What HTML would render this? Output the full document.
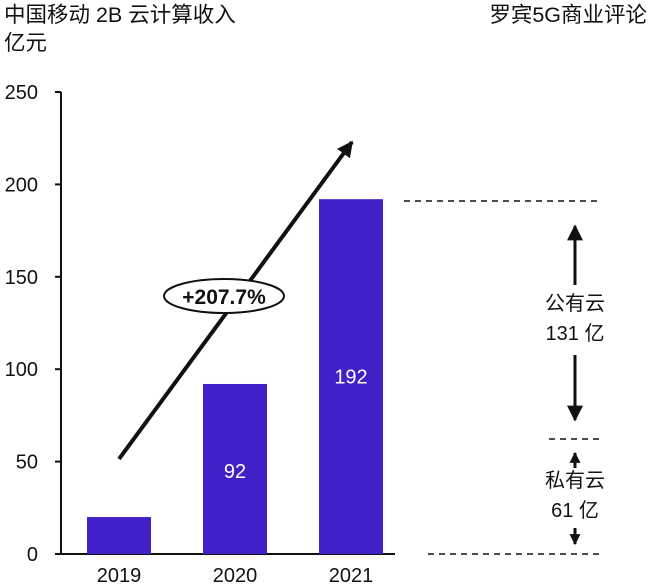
<!DOCTYPE html>
<html><head><meta charset="utf-8"><style>
body{margin:0;background:#fff;}
svg{display:block;font-family:"Liberation Sans","Noto Sans CJK SC",sans-serif;}
</style></head><body>
<svg id="chart" width="651" height="587" viewBox="0 0 651 587">
<defs>
<marker id="ah" viewBox="0 0 10 10" markerWidth="11" markerHeight="11" refX="9" refY="5" orient="auto" markerUnits="userSpaceOnUse"><path d="M0,0 L10,5 L0,10 z" fill="#111"/></marker>
<marker id="ah2" viewBox="0 0 10 10" markerWidth="16" markerHeight="16" refX="9" refY="5" orient="auto" markerUnits="userSpaceOnUse"><path d="M0,0 L10,5 L0,10 z" fill="#111"/></marker>
</defs>
<text x="4" y="22" font-size="21.5" fill="#111">中国移动 2B 云计算收入</text>
<text x="4" y="50" font-size="21.5" fill="#111">亿元</text>
<text x="647" y="22" font-size="21.5" fill="#111" text-anchor="end">罗宾5G商业评论</text>
<g id="axes"></g>
<g id="bars"></g>
<line x1="119" y1="459" x2="352" y2="142" stroke="#111" stroke-width="4" marker-end="url(#ah2)"/>
<ellipse cx="224" cy="296" rx="60" ry="17" fill="#fff" stroke="#111" stroke-width="2"/>
<text x="224" y="304" font-size="21" font-weight="bold" text-anchor="middle" fill="#111">+207.7%</text>
<g stroke="#111" stroke-width="1.6" stroke-dasharray="6,5">
<line x1="404" y1="201" x2="600" y2="201"/>
<line x1="549" y1="439" x2="600" y2="439"/>
<line x1="428" y1="554" x2="600" y2="554"/>
</g>
<g stroke="#111" stroke-width="3">
<line x1="575" y1="285" x2="575" y2="226" marker-end="url(#ah2)"/>
<line x1="575" y1="355" x2="575" y2="420" marker-end="url(#ah2)"/>
<line x1="575" y1="468" x2="575" y2="453" marker-end="url(#ah)"/>
<line x1="575" y1="528" x2="575" y2="544" marker-end="url(#ah)"/>
</g>
<text x="575" y="310" font-size="20" text-anchor="middle" fill="#111">公有云</text>
<text x="575" y="340" font-size="20" text-anchor="middle" fill="#111">131 亿</text>
<text x="575" y="487" font-size="20" text-anchor="middle" fill="#111">私有云</text>
<text x="575" y="517" font-size="20" text-anchor="middle" fill="#111">61 亿</text>
</svg>
<script>
const categories=["2019","2020","2021"];
const values=[20,92,192];
const valueLabels=["","92","192"];
const yTicks=[0,50,100,150,200,250];
const NS="http://www.w3.org/2000/svg";
const y0=554,y1=92,yMax=250;
function y(v){return y0-(v/yMax)*(y0-y1);}
function x(i){return 119+i*116;}
const bw=64;
const ax=document.getElementById("axes"),bg=document.getElementById("bars");
function mk(tag,attrs,parent,txt){const e=document.createElementNS(NS,tag);for(const k in attrs)e.setAttribute(k,attrs[k]);if(txt!==undefined)e.textContent=txt;parent.appendChild(e);return e;}
let l=mk("line",{x1:61,y1:y1,x2:61,y2:y0,stroke:"#111","stroke-width":2},ax);


l=mk("line",{x1:61,y1:y0,x2:395,y2:y0,stroke:"#111","stroke-width":2},ax);


yTicks.forEach(t=>{
  const tl=mk("line",{x1:55,y1:y(t),x2:61,y2:y(t),stroke:"#111","stroke-width":2},ax);
  
  
  const tx=mk("text",{x:38,y:y(t)+7,"font-size":20,"text-anchor":"end",fill:"#111"},ax,String(t));
  
  
});
categories.forEach((c,i)=>{
  const r=mk("rect",{x:x(i)-bw/2,y:y(values[i]),width:bw,height:y0-y(values[i]),fill:"#4120c8"},bg);
  
  
  const t=mk("text",{x:x(i),y:582,"font-size":20,"text-anchor":"middle",fill:"#111"},ax,c);
  
  
  if(valueLabels[i]){
    const v=mk("text",{x:x(i),y:(y(values[i])+y0)/2+(i==2?0:2)+7,"font-size":20,"text-anchor":"middle",fill:"#fff"},bg,valueLabels[i]);
    
    
  }
});
</script>
</body></html>
